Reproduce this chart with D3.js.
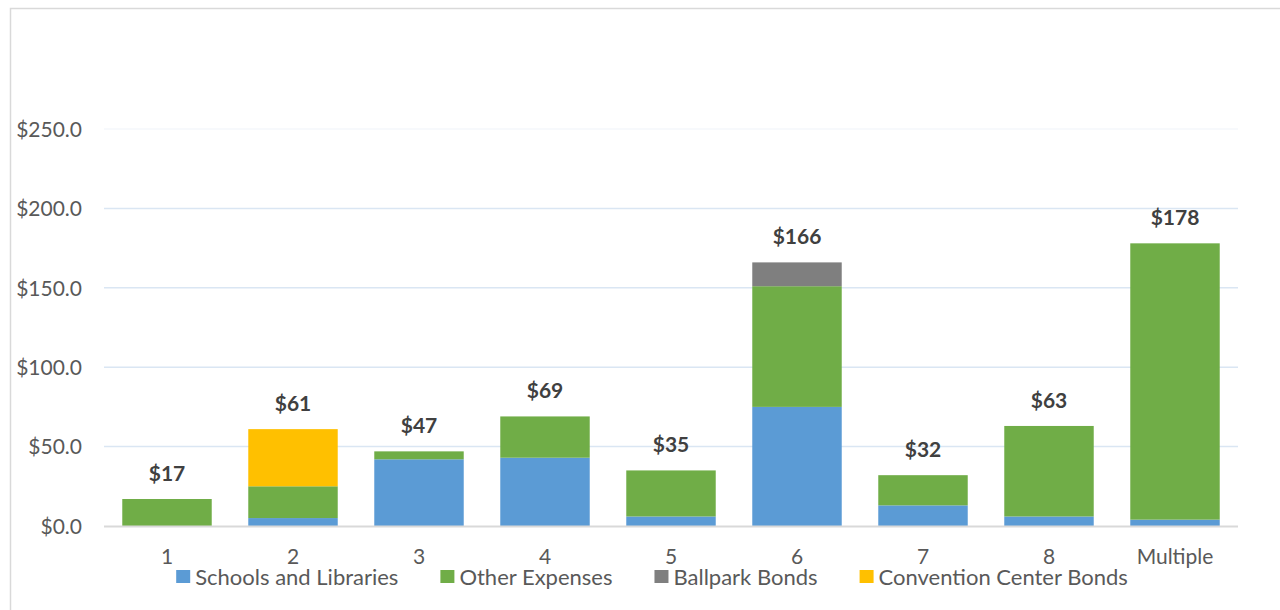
<!DOCTYPE html>
<html lang="en">
<head>
    <meta charset="UTF-8">
    <title>Stacked bars</title>
    <script src="https://cdn.jsdelivr.net/npm/d3@7/dist/d3.min.js"></script>
    <style>
        body { margin: 0; background: #fff; }
        text { font-family: Lato, "Open Sans", sans-serif; }
    </style>
</head>
<body>
    <div class="chart"></div>
</body>
<script>
    const categories = ['1', '2', '3', '4', '5', '6', '7', '8', 'Multiple']
    const schools = [0, 5, 42, 43, 6, 75, 13, 6, 4]
    const other = [17, 20, 5, 26, 29, 76, 19, 57, 174]
    const ballpark = [0, 0, 0, 0, 0, 15, 0, 0, 0]
    const convention = [0, 36, 0, 0, 0, 0, 0, 0, 0]
    const totals = [17, 61, 47, 69, 35, 166, 32, 63, 178]
    const yTicks = [0, 50, 100, 150, 200, 250]

    const seriesNames = ['Schools and Libraries', 'Other Expenses', 'Ballpark Bonds', 'Convention Center Bonds']
    const colors = ['#5b9bd5', '#70ad47', '#7f7f7f', '#ffc000']

    const width = 1280
    const height = 610
    const plot = { left: 104, right: 1238, top: 129, bottom: 526 }
    const fontSize = '21px'

    const rows = categories.map((c, i) => ({
        cat: c,
        s0: schools[i], s1: other[i], s2: ballpark[i], s3: convention[i]
    }))
    const stack = d3.stack().keys(['s0', 's1', 's2', 's3'])(rows)

    const x = d3.scaleBand().domain(categories).range([plot.left, plot.right]).paddingInner(0.29).paddingOuter(0.145)
    const y = d3.scaleLinear().domain([0, 250]).range([plot.bottom, plot.top])

    const svg = d3.select('.chart').append('svg')
        .attr('width', width)
        .attr('height', height)

    // chart frame
    svg.append('path')
        .attr('d', `M10.5,${height} V8.5 H${width}`)
        .attr('fill', 'none')
        .attr('stroke', '#d9d9d9')
        .attr('stroke-width', 1.5)

    // gridlines
    svg.append('g')
        .selectAll('line')
        .data(yTicks.filter(d => d > 0))
        .enter()
        .append('line')
        .attr('x1', plot.left)
        .attr('x2', plot.right)
        .attr('y1', d => y(d))
        .attr('y2', d => y(d))
        .attr('stroke', d => d === 250 ? '#f4f7fb' : '#dae6f3')
        .attr('stroke-width', 1.5)

    // y axis labels
    const yAxis = d3.axisLeft(y).tickValues(yTicks).tickFormat(d => '$' + d3.format('.1f')(d)).tickSize(0).tickPadding(0)
    const gy = svg.append('g').attr('transform', 'translate(82,0)').call(yAxis)
    gy.select('.domain').remove()
    gy.selectAll('text')
        .attr('fill', '#595959')
        .attr('font-size', fontSize)
        .attr('font-family', 'Lato, sans-serif')
        .attr('dy', '0.35em')

    // bars
    svg.append('g')
        .selectAll('g')
        .data(stack)
        .enter()
        .append('g')
        .attr('fill', (d, i) => colors[i])
        .selectAll('rect')
        .data(d => d)
        .enter()
        .append('rect')
        .attr('x', d => x(d.data.cat))
        .attr('width', x.bandwidth())
        .attr('y', d => y(d[1]))
        .attr('height', d => y(d[0]) - y(d[1]))

    // baseline axis
    const xAxis = d3.axisBottom(x).tickSize(0).tickPadding(0)
    const gx = svg.append('g').attr('transform', `translate(0,${plot.bottom})`).call(xAxis)
    gx.select('.domain')
        .attr('stroke', '#d9d9d9')
        .attr('stroke-width', 2)
        .attr('d', `M${plot.left},0.5H${plot.right}`)
    gx.selectAll('text')
        .attr('fill', '#595959')
        .attr('font-size', fontSize)
        .attr('font-family', 'Lato, sans-serif')
        .attr('dy', null)
        .attr('y', 38)

    // total labels
    svg.append('g')
        .selectAll('text')
        .data(categories)
        .enter()
        .append('text')
        .attr('x', d => x(d) + x.bandwidth() / 2)
        .attr('y', (d, i) => y(totals[i]) - 18)
        .attr('text-anchor', 'middle')
        .attr('fill', '#404040')
        .attr('font-size', fontSize)
        .attr('font-weight', 'bold')
        .text((d, i) => '$' + totals[i])

    // legend
    const legend = svg.append('g').attr('transform', 'translate(0,585)')
    const items = legend.selectAll('g')
        .data(seriesNames)
        .enter()
        .append('g')
    items.append('rect')
        .attr('y', -15)
        .attr('width', 14)
        .attr('height', 13)
        .attr('fill', (d, i) => colors[i])
    items.append('text')
        .attr('x', 19)
        .attr('fill', '#595959')
        .attr('font-size', '22px')
        .text(d => d)
    let offset = 0
    const widths = []
    items.each(function () {
        const w = this.querySelector('text').getComputedTextLength()
        widths.push(w)
    })
    const total = d3.sum(widths) + widths.length * 19 + (widths.length - 1) * 42
    offset = 652 - total / 2
    items.attr('transform', (d, i) => {
        const tx = offset
        offset += 19 + widths[i] + 42
        return `translate(${tx},0)`
    })
</script>
</html>
